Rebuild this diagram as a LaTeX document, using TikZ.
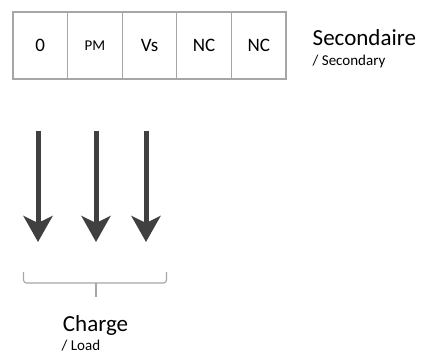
\documentclass[tikz,border=0pt]{standalone}
\usepackage{fontspec}
\setmainfont{Carlito}
\usetikzlibrary{arrows.meta}

\definecolor{boxgray}{HTML}{A6A6A6}
\definecolor{arrowgray}{HTML}{404040}

\tikzset{
	cell/.style={draw=boxgray, line width=1.2pt, minimum width=54.6pt, minimum height=67pt, inner sep=0pt, font=\fontsize{19}{21}\selectfont},
	loadarrow/.style={line width=5pt, arrowgray, -{Stealth[length=26pt, width=29pt, inset=7pt]}},
}

\begin{document}
\begin{tikzpicture}[x=1pt, y=-1pt]
	\useasboundingbox (0,0) rectangle (424,358);
	\node[cell] (c0) at (40.3,45.5) {0};
	\node[cell, font=\fontsize{15}{17}\selectfont] (cpm) at (94.9,45.5) {PM};
	\node[cell] (cvs) at (149.5,45.5) {Vs};
	\node[cell] (cnc) at (204.1,45.5) {NC};
	\node[cell] (cnd) at (258.7,45.5) {NC};
	\node[anchor=base west, inner sep=0pt, font=\fontsize{23}{25}\selectfont] (sec) at (312.5,45.5) {Secondaire};
	\node[anchor=base west, inner sep=0pt, font=\fontsize{15}{17}\selectfont] (seceng) at (312.5,66) {/ Secondary};
	\coordinate (a1) at (38,131); \coordinate (b1) at (38,242);
	\coordinate (a2) at (96,131); \coordinate (b2) at (96,242);
	\coordinate (a3) at (146,131); \coordinate (b3) at (146,242);
	\draw[loadarrow] (a1) -- (b1);
	\draw[loadarrow] (a2) -- (b2);
	\draw[loadarrow] (a3) -- (b3);
	% accolade
	\coordinate (bl) at (23.5,272); \coordinate (br) at (166.5,272); \coordinate (bm) at (96,297);
	\draw[boxgray, line width=1.1pt, rounded corners=3pt] (bl) -- (23.5,283) -- (166.5,283) -- (br);
	\draw[boxgray, line width=1.1pt] (96,283) -- (bm);
	\node[anchor=base, inner sep=0pt, font=\fontsize{23}{25}\selectfont] (charge) at (95.5,332) {Charge};
	\node[anchor=base west, inner sep=0pt, font=\fontsize{15}{17}\selectfont] (load) at (61.5,351) {/ Load};
\end{tikzpicture}
\end{document}
